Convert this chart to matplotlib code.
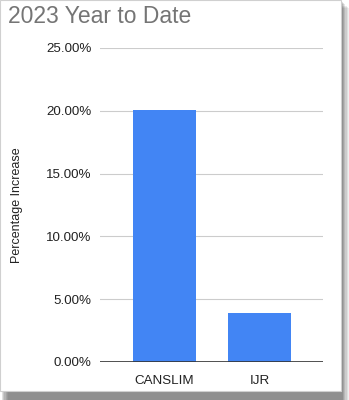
import matplotlib
matplotlib.use("Agg")
import matplotlib.pyplot as plt
from matplotlib.patches import Rectangle
from matplotlib.ticker import FuncFormatter

plt.rcParams["font.family"] = ["Liberation Sans", "DejaVu Sans"]

categories = ["CANSLIM", "IJR"]
values = [0.201, 0.039]
yticks = [0.0, 0.05, 0.10, 0.15, 0.20, 0.25]

W, H = 349, 400
fig = plt.figure(figsize=(W / 100, H / 100), dpi=100)
fig.patch.set_facecolor("white")

# soft drop shadow behind the card
card_w, card_h = 341, 391
for i, a in enumerate([0.10, 0.12, 0.14, 0.16, 0.18, 0.20]):
    off = 8 - i * 1.2
    fig.patches.append(Rectangle((off / W, -off / H), card_w / W, 1.0,
                                 transform=fig.transFigure, facecolor="black", alpha=a * 0.6,
                                 edgecolor="none", zorder=0))
fig.patches.append(Rectangle((0, 1 - card_h / H), card_w / W, card_h / H,
                             transform=fig.transFigure, facecolor="white",
                             edgecolor="#d0d0d0", linewidth=0.8, zorder=1))

ax = fig.add_axes([100 / W, 1 - 362 / H, 223 / W, (362 - 48) / H])
ax.set_facecolor("none")
ax.set_zorder(2)

x = range(len(categories))
ax.bar(x, values, width=0.66, color="#4285f4", zorder=3)
ax.set_xlim(-0.675, 1.66)
ax.set_ylim(0, 0.25)
ax.set_yticks(yticks)
ax.yaxis.set_major_formatter(FuncFormatter(lambda v, p: f"{v * 100:.2f}%"))
ax.set_xticks(list(x))
ax.set_xticklabels(categories)
ax.grid(axis="y", color="#cccccc", linewidth=0.8, zorder=0)
ax.axhline(0, color="#333333", linewidth=1.2, zorder=4)
for s in ax.spines.values():
    s.set_visible(False)
ax.tick_params(axis="both", length=0, labelsize=9.6, labelcolor="#222222")
ax.tick_params(axis="y", pad=6)
ax.tick_params(axis="x", pad=9)
ax.set_ylabel("Percentage Increase", fontsize=9, color="#222222")
ax.yaxis.set_label_coords((23 - 100) / 223, 0.5)

fig.text(8 / W, 1 - 16.5 / H, "2023 Year to Date", fontsize=16.5, color="#757575",
         ha="left", va="center", zorder=5)

fig.savefig("out.png", dpi=100)
